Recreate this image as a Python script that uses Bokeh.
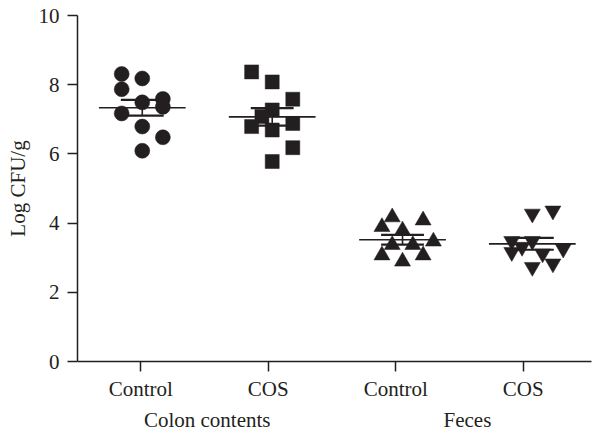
import numpy as np
from bokeh.plotting import figure
from bokeh.models import FixedTicker, LinearAxis, CustomJSTickFormatter, Range1d
from bokeh.embed import file_html
from bokeh.resources import INLINE

# ---- data ----
categories = ["Control", "COS", "Control", "COS"]
groups = ["Colon contents", "Feces"]
y_ticks = [0, 2, 4, 6, 8, 10]
y_label = "Log CFU/g"

colon_control = [8.31, 8.18, 7.87, 7.49, 7.59, 7.36, 7.17, 6.79, 6.48, 6.09]
colon_cos = [8.37, 8.08, 7.58, 7.27, 7.08, 6.79, 6.69, 6.88, 6.18, 5.78]
feces_control = [4.17, 4.08, 3.89, 3.79, 3.47, 3.37, 3.37, 3.07, 3.07, 2.89]
feces_cos = [4.27, 4.36, 3.48, 3.48, 3.31, 3.26, 3.16, 3.12, 2.83, 2.73]

# jitter columns (half-steps) used to spread overlapping points
jit_colon_control = [-2, 0, -2, 0, 2, 2, -2, 0, 2, 0]
jit_colon_cos = [-2, 0, 2, 0, -1, -2, 0, 2, 2, 0]
jit_feces_control = [-1, 2, -2, 0, 3, -1, 1, -2, 2, 0]
jit_feces_cos = [0, 2, -2, 0, -1, 3, -2, 1, 2, 0]

# ---- style ----
INK = "#231f20"
FONT = "Liberation Serif"
FS = "21px"
group_shift = [0.012, 0.031, 0.053, 0.071]
half_step = 0.0807
markers = ["circle", "square", "triangle", "inverted_triangle"]
sizes = [15, 14, 16, 16]

series = [colon_control, colon_cos, feces_control, feces_cos]
jitters = [jit_colon_control, jit_colon_cos, jit_feces_control, jit_feces_cos]

p = figure(width=592, height=434,
           x_range=Range1d(0.504, 4.535), y_range=Range1d(0, 10),
           output_backend="svg", toolbar_location=None,
           min_border_left=77, min_border_right=1,
           min_border_top=15, min_border_bottom=72)
p.grid.visible = False
p.outline_line_color = None
p.xaxis.visible = False
p.yaxis.visible = False

centers = []
for i, (vals, jit) in enumerate(zip(series, jitters)):
    c = (i + 1) + group_shift[i]
    centers.append(c)
    xs = [c + j * half_step for j in jit]
    p.scatter(xs, vals, marker=markers[i], size=sizes[i],
              fill_color=INK, line_color=INK, line_width=0.5)

# mean and SEM lines computed from the data
for i, vals in enumerate(series):
    c = centers[i]
    arr = np.array(vals)
    m = arr.mean()
    sem = arr.std(ddof=1) / np.sqrt(len(arr))
    p.segment(x0=[c - 0.34], y0=[m], x1=[c + 0.34], y1=[m], line_color=INK, line_width=1.6)
    p.segment(x0=[c - 0.168, c - 0.168], y0=[m - sem, m + sem],
              x1=[c + 0.168, c + 0.168], y1=[m - sem, m + sem],
              line_color=INK, line_width=2.2)
    p.segment(x0=[c], y0=[m - sem], x1=[c], y1=[m + sem], line_color=INK, line_width=1.6)

def style_axis(ax):
    ax.axis_line_color = INK
    ax.axis_line_width = 1.5
    ax.major_tick_line_color = INK
    ax.major_tick_line_width = 1.5
    ax.major_tick_out = 10
    ax.major_tick_in = 0
    ax.minor_tick_line_color = None
    ax.major_label_text_font = FONT
    ax.major_label_text_font_size = FS
    ax.major_label_text_color = INK

yax = LinearAxis(ticker=FixedTicker(ticks=y_ticks))
style_axis(yax)
yax.major_label_standoff = 8
yax.axis_label = y_label
yax.axis_label_text_font = FONT
yax.axis_label_text_font_size = FS
yax.axis_label_text_font_style = "normal"
yax.axis_label_text_color = INK
yax.axis_label_standoff = 6
p.add_layout(yax, "left")

xax = LinearAxis(ticker=FixedTicker(ticks=[1, 2, 3, 4]))
style_axis(xax)
xax.major_label_standoff = 5
xax.formatter = CustomJSTickFormatter(args=dict(labels=categories),
                                      code="return labels[Math.round(tick) - 1];")
p.add_layout(xax, "below")

gticks = [(centers[0] + centers[1]) / 2, (centers[2] + centers[3]) / 2]
gax = LinearAxis(ticker=FixedTicker(ticks=gticks))
gax.axis_line_color = None
gax.major_tick_line_color = None
gax.minor_tick_line_color = None
gax.major_tick_out = 0
gax.major_tick_in = 0
gax.major_label_standoff = 4
gax.major_label_text_font = FONT
gax.major_label_text_font_size = FS
gax.major_label_text_color = INK
gax.formatter = CustomJSTickFormatter(args=dict(labels=groups), code="return labels[index];")
p.add_layout(gax, "below")

open("out.html", "w").write(file_html(p, INLINE))
